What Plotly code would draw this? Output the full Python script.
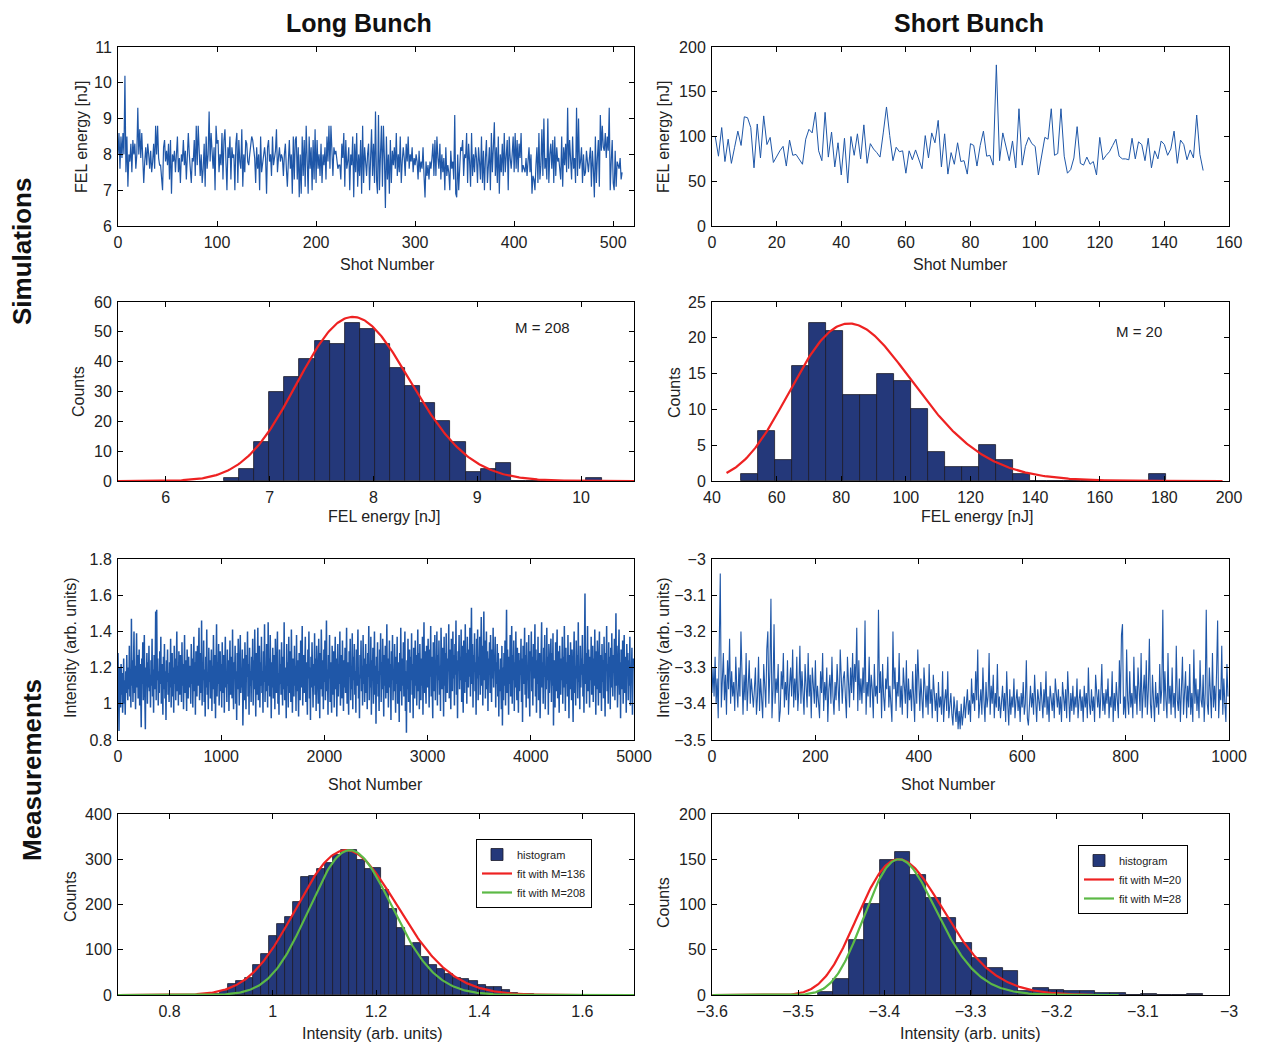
import numpy as np
import plotly.graph_objects as go

# The browser page has an 8px body margin: the figure is drawn from (8, 8)
PAGE_W, PAGE_H = 1261, 1046
OFF = 8
W, H = PAGE_W - OFF, PAGE_H - OFF
FONT = "Liberation Sans, Arial, sans-serif"


def fx(px):
    return (px - OFF) / W


def fy(py):
    return 1 - (py - OFF) / H


# ---------------- data ----------------
# Simulated long bunch: FEL energy per shot, in tenths of nJ
SIM_LONG_TENTHS = [
 80, 86, 76, 85, 79, 86, 80, 102, 75, 85, 71, 80, 78, 83, 75, 84, 80, 83, 76, 80,
 93, 80, 87, 79, 86, 80, 72, 78, 82, 77, 83, 80, 76, 81, 75, 78, 83, 76, 88, 80,
 88, 79, 77, 77, 73, 70, 82, 84, 78, 81, 77, 83, 73, 84, 69, 80, 78, 81, 75, 80,
 85, 75, 79, 72, 80, 78, 84, 77, 81, 73, 79, 86, 80, 76, 72, 79, 78, 84, 74, 88,
 77, 88, 79, 74, 80, 72, 76, 83, 71, 85, 76, 80, 92, 78, 86, 80, 76, 82, 70, 88,
 83, 84, 75, 80, 77, 86, 73, 84, 87, 78, 70, 82, 79, 85, 73, 82, 79, 80, 70, 83,
 86, 72, 84, 78, 76, 87, 71, 80, 75, 84, 83, 78, 77, 80, 84, 85, 84, 81, 79, 72,
 82, 76, 80, 70, 85, 75, 77, 80, 82, 79, 69, 82, 84, 78, 80, 74, 85, 77, 79, 81,
 87, 75, 79, 82, 78, 80, 79, 74, 80, 83, 76, 71, 78, 84, 76, 80, 69, 85, 73, 84,
 85, 73, 82, 68, 80, 69, 85, 74, 84, 71, 88, 77, 69, 85, 76, 82, 70, 84, 73, 87,
 72, 84, 76, 80, 74, 83, 72, 80, 77, 82, 73, 85, 78, 88, 76, 88, 80, 74, 82, 80,
 81, 78, 76, 77, 77, 73, 83, 79, 86, 71, 84, 76, 78, 82, 70, 80, 77, 85, 68, 83,
 75, 86, 71, 80, 74, 84, 69, 88, 72, 82, 77, 74, 80, 83, 70, 78, 87, 74, 83, 72,
 92, 73, 69, 91, 70, 80, 88, 71, 88, 79, 65, 85, 73, 80, 69, 84, 72, 81, 77, 82,
 76, 86, 74, 80, 75, 85, 72, 78, 82, 79, 74, 83, 78, 85, 76, 80, 78, 82, 75, 79,
 77, 80, 78, 73, 81, 75, 78, 76, 82, 74, 68, 78, 74, 77, 73, 78, 76, 79, 83, 74,
 84, 74, 85, 79, 76, 83, 73, 80, 75, 79, 70, 82, 74, 77, 75, 70, 81, 76, 78, 73,
 91, 69, 68, 80, 70, 76, 82, 81, 84, 74, 80, 79, 86, 72, 83, 78, 71, 86, 74, 80,
 75, 82, 79, 72, 82, 78, 73, 85, 72, 81, 70, 79, 84, 72, 78, 82, 70, 86, 75, 81,
 89, 74, 82, 72, 85, 69, 80, 75, 83, 74, 86, 75, 79, 84, 70, 85, 79, 76, 80, 85,
 75, 86, 76, 84, 75, 83, 79, 86, 75, 77, 76, 75, 79, 74, 78, 82, 75, 80, 69, 74,
 73, 70, 77, 82, 72, 86, 73, 77, 87, 74, 90, 76, 79, 73, 90, 72, 80, 83, 76, 84,
 72, 85, 74, 82, 78, 79, 76, 73, 85, 71, 82, 77, 83, 75, 93, 76, 84, 79, 73, 85,
 76, 79, 72, 93, 74, 90, 76, 78, 82, 72, 80, 74, 75, 81, 77, 75, 79, 82, 71, 81,
 76, 68, 85, 72, 79, 84, 71, 91, 81, 88, 82, 81, 86, 79, 85, 81, 93, 70, 78, 84,
 72, 70, 81, 71, 78, 77, 76, 79, 73, 75,
]

# Simulated short bunch: FEL energy per shot [nJ]
SIM_SHORT_NJ = [
 100, 78, 110, 72, 97, 70, 88, 106, 90, 122, 121, 110, 65, 114, 76, 123, 91, 99, 71, 78,
 84, 89, 67, 96, 79, 80, 74, 69, 97, 108, 104, 127, 84, 73, 127, 77, 105, 66, 93, 57,
 98, 48, 100, 79, 103, 75, 113, 70, 92, 86, 82, 77, 104, 133, 101, 73, 88, 83, 84, 59,
 84, 74, 85, 74, 64, 101, 76, 104, 93, 118, 66, 103, 58, 82, 69, 93, 72, 73, 58, 92,
 90, 67, 90, 106, 78, 79, 68, 180, 73, 104, 90, 73, 95, 65, 131, 68, 89, 99, 92, 89,
 57, 80, 99, 97, 131, 79, 81, 131, 78, 59, 63, 76, 111, 70, 68, 77, 69, 72, 57, 99,
 74, 79, 83, 90, 97, 78, 75, 75, 74, 98, 75, 94, 91, 73, 98, 65, 84, 75, 95, 91,
 79, 86, 106, 70, 96, 91, 74, 85, 76, 124, 80, 62,
]

# Measured long bunch: intensity of every 5th shot, coded as (I - 0.8) * 100
MEAS_LONG_STEP = 5
MEAS_LONG_CODE = [
 48, 22, 5, 40, 30, 18, 42, 25, 37, 15, 28, 45, 20, 33, 14, 38, 26, 47, 30, 22,
 40, 28, 52, 24, 36, 18, 67, 30, 44, 21, 35, 60, 26, 41, 17, 38, 59, 29, 47, 23,
 34, 50, 19, 42, 28, 7, 45, 31, 54, 22, 37, 58, 25, 6, 40, 33, 48, 20, 43, 29,
 52, 27, 36, 18, 44, 30, 56, 24, 39, 15, 47, 28, 35, 71, 22, 72, 33, 45, 19, 38,
 26, 49, 31, 57, 20, 42, 35, 14, 46, 28, 53, 23, 38, 11, 44, 32, 50, 25, 37, 21,
 43, 29, 56, 18, 36, 48, 24, 40, 15, 52, 31, 45, 22, 38, 60, 27, 41, 19, 49, 33,
 25, 47, 36, 21, 54, 30, 42, 17, 39, 58, 26, 44, 32, 16, 50, 35, 23, 46, 29, 41,
 37, 20, 53, 31, 45, 18, 38, 57, 27, 43, 14, 49, 34, 24, 52, 30, 40, 62, 22, 36,
 48, 26, 66, 19, 42, 33, 55, 21, 39, 13, 46, 29, 61, 25, 37, 17, 51, 32, 44, 23,
 35, 50, 16, 41, 28, 58, 34, 20, 47, 12, 39, 64, 24, 43, 31, 53, 19, 38, 49, 27,
 42, 18, 54, 33, 26, 47, 15, 40, 57, 29, 36, 21, 50, 31, 44, 16, 39, 55, 25, 34,
 46, 23, 61, 30, 17, 43, 35, 52, 20, 38, 11, 48, 28, 56, 33, 19, 41, 58, 26, 37,
 29, 50, 8, 39, 45, 22, 54, 31, 17, 47, 35, 60, 24, 42, 14, 51, 30, 38, 21, 46,
 33, 56, 19, 44, 28, 61, 35, 13, 48, 25, 40, 62, 22, 37, 52, 18, 43, 30, 57, 26,
 38, 15, 49, 32, 64, 21, 41, 27, 53, 35, 18, 65, 30, 45, 24, 58, 36, 12, 43, 29,
 51, 23, 39, 47, 17, 56, 33, 26, 44, 60, 20, 37, 14, 50, 31, 42, 25, 54, 34, 19,
 46, 28, 65, 22, 40, 35, 12, 53, 30, 43, 18, 57, 26, 38, 49, 21, 61, 32, 15, 45,
 36, 24, 52, 30, 41, 16, 58, 27, 44, 33, 13, 48, 37, 22, 55, 29, 40, 63, 19, 35,
 47, 26, 38, 57, 21, 43, 31, 14, 50, 34, 60, 23, 40, 11, 46, 29, 54, 36, 18, 42,
 30, 59, 25, 45, 16, 52, 33, 40, 20, 56, 37, 12, 48, 28, 61, 35, 24, 44, 17, 50,
 32, 55, 22, 41, 66, 27, 39, 14, 47, 34, 58, 21, 43, 30, 15, 52, 36, 25, 49, 18,
 40, 57, 28, 45, 13, 36, 53, 24, 42, 31, 60, 19, 38, 47, 23, 55, 33, 16, 44, 29,
 51, 26, 37, 62, 20, 43, 32, 14, 49, 35, 56, 22, 40, 28, 59, 17, 46, 33, 53, 25,
 38, 15, 50, 30, 44, 61, 23, 36, 12, 47, 34, 55, 27, 41, 19, 58, 31, 45, 21, 37,
 53, 26, 42, 17, 48, 35, 63, 22, 39, 29, 57, 14, 44, 33, 51, 20, 37, 60, 25, 41,
 9, 46, 31, 54, 24, 38, 16, 50, 36, 59, 21, 43, 28, 56, 34, 13, 47, 30, 52, 23,
 40, 64, 26, 45, 18, 37, 55, 29, 42, 11, 49, 33, 58, 22, 39, 27, 53, 35, 15, 46,
 31, 57, 20, 43, 36, 10, 48, 27, 62, 34, 19, 45, 30, 54, 24, 41, 60, 16, 38, 4,
 44, 28, 56, 21, 39, 50, 15, 46, 33, 59, 25, 42, 12, 51, 36, 23, 55, 30, 47, 19,
 40, 61, 27, 48, 17, 53, 35, 22, 45, 30, 57, 14, 42, 65, 26, 49, 33, 20, 52, 38,
 29, 56, 43, 18, 50, 35, 63, 24, 46, 31, 12, 54, 38, 27, 58, 22, 44, 36, 60, 19,
 47, 33, 55, 25, 41, 16, 62, 37, 28, 51, 43, 13, 57, 30, 48, 21, 59, 35, 26, 45,
 38, 64, 23, 50, 31, 17, 56, 42, 27, 60, 34, 47, 19, 53, 36, 66, 25, 44, 12, 49,
 39, 58, 28, 46, 33, 61, 21, 52, 37, 15, 55, 43, 26, 64, 32, 48, 20, 57, 40, 29,
 50, 35, 62, 24, 45, 73, 31, 53, 18, 47, 38, 59, 27, 43, 14, 56, 34, 61, 22, 46,
 36, 57, 25, 48, 68, 30, 52, 19, 44, 71, 33, 55, 23, 41, 60, 28, 49, 16, 45, 37,
 54, 26, 58, 38, 21, 50, 34, 62, 29, 46, 40, 57, 18, 43, 31, 53, 24, 48, 13, 39,
 27, 45, 33, 17, 52, 8, 40, 22, 48, 30, 55, 19, 43, 72, 26, 50, 35, 14, 46, 31,
 58, 24, 41, 63, 20, 47, 33, 55, 16, 43, 29, 60, 37, 22, 51, 34, 15, 48, 27, 44,
 36, 56, 21, 45, 10, 52, 31, 40, 62, 25, 47, 18, 54, 33, 41, 23, 58, 30, 13, 49,
 38, 60, 27, 46, 19, 53, 34, 42, 64, 24, 50, 15, 44, 31, 57, 22, 39, 48, 12, 36,
 55, 65, 29, 43, 20, 51, 35, 58, 17, 40, 28, 62, 33, 46, 14, 53, 26, 41, 37, 56,
 21, 48, 30, 59, 8, 44, 36, 18, 54, 27, 42, 61, 23, 49, 32, 15, 52, 38, 25, 45,
 33, 57, 20, 46, 29, 63, 37, 16, 51, 31, 43, 24, 58, 35, 12, 47, 28, 54, 39, 22,
 50, 30, 10, 44, 60, 26, 41, 19, 55, 34, 47, 23, 65, 32, 38, 17, 52, 29, 45, 36,
 58, 24, 42, 15, 54, 81, 31, 48, 20, 43, 63, 27, 50, 35, 18, 46, 33, 57, 25, 40,
 52, 21, 45, 30, 61, 37, 14, 49, 28, 55, 34, 19, 43, 60, 26, 47, 36, 16, 53, 32,
 44, 23, 57, 31, 13, 48, 38, 63, 27, 42, 20, 54, 35, 46, 17, 51, 29, 59, 33, 24,
 47, 37, 56, 22, 41, 70, 30, 52, 18, 45, 34, 61, 25, 43, 12, 50, 38, 28, 55, 20,
 42, 58, 26, 46, 33, 15, 53, 36, 48, 22, 44, 30, 57, 19, 40, 35, 51, 14, 38, 45,
]

# Measured short bunch: intensity of every 2nd shot, coded as -I * 100
MEAS_SHORT_STEP = 2
MEAS_SHORT_CODE = [
 337, 330, 338, 327, 340, 333, 344, 329, 304, 341, 335, 326, 339, 332, 343, 328, 336, 322, 340, 331,
 338, 334, 342, 327, 336, 341, 330, 338, 320, 337, 343, 332, 339, 326, 342, 335, 328, 340, 333, 337,
 341, 336, 330, 343, 338, 327, 342, 333, 339, 344, 329, 337, 341, 325, 320, 340, 331, 311, 344, 336,
 318, 340, 333, 337, 329, 345, 342, 331, 336, 326, 341, 334, 339, 328, 343, 335, 330, 338, 325, 341,
 333, 339, 327, 342, 336, 324, 340, 331, 337, 343, 329, 335, 341, 326, 338, 332, 344, 330, 336, 340,
 328, 341, 335, 339, 344, 331, 337, 326, 342, 334, 339, 330, 345, 336, 332, 340, 327, 338, 343, 334,
 339, 329, 337, 342, 325, 336, 340, 333, 331, 338, 344, 327, 335, 341, 330, 337, 326, 339, 329, 334,
 319, 342, 328, 339, 333, 340, 330, 337, 317, 343, 334, 338, 327, 341, 332, 336, 344, 329, 338, 335,
 340, 314, 337, 331, 344, 329, 338, 342, 333, 336, 327, 341, 335, 339, 345, 320, 336, 330, 342, 334,
 338, 326, 341, 335, 343, 330, 337, 340, 328, 344, 333, 339, 336, 342, 331, 338, 345, 329, 340, 325,
 337, 342, 333, 339, 344, 330, 338, 341, 335, 343, 329, 340, 336, 344, 332, 339, 342, 337, 345, 334,
 341, 338, 343, 331, 345, 339, 336, 342, 331, 344, 340, 337, 343, 346, 338, 341, 345, 339, 347, 342,
 347, 340, 346, 343, 338, 344, 341, 336, 343, 339, 345, 333, 340, 337, 342, 331, 339, 325, 344, 341,
 336, 343, 330, 339, 345, 334, 341, 338, 326, 343, 335, 340, 332, 344, 337, 341, 329, 342, 338, 344,
 339, 335, 342, 337, 345, 331, 340, 346, 336, 343, 338, 341, 333, 344, 339, 336, 342, 338, 345, 337,
 341, 334, 343, 340, 328, 344, 346, 338, 335, 341, 337, 343, 332, 339, 345, 336, 340, 342, 334, 338,
 344, 336, 341, 331, 343, 338, 345, 335, 340, 342, 337, 344, 333, 339, 341, 336, 343, 338, 345, 334,
 339, 342, 336, 344, 331, 340, 345, 337, 342, 335, 343, 338, 341, 333, 344, 339, 336, 342, 338, 345,
 335, 341, 337, 344, 330, 340, 343, 336, 342, 338, 345, 332, 339, 341, 336, 344, 338, 329, 342, 337,
 343, 336, 340, 333, 344, 338, 341, 331, 345, 337, 342, 334, 339, 344, 328, 340, 321, 318, 343, 338,
 344, 325, 339, 343, 331, 341, 337, 344, 327, 340, 335, 343, 330, 338, 342, 326, 344, 337, 332, 341,
 328, 343, 336, 322, 340, 344, 332, 339, 345, 334, 341, 337, 343, 329, 340, 336, 314, 342, 331, 339,
 344, 326, 340, 335, 343, 330, 341, 337, 344, 324, 339, 342, 333, 345, 336, 327, 343, 338, 331, 344,
 335, 341, 329, 343, 337, 345, 325, 340, 333, 342, 336, 344, 328, 339, 341, 332, 345, 337, 314, 340,
 343, 330, 338, 344, 326, 341, 335, 342, 331, 317, 344, 336, 339, 324, 343, 333, 340, 345, 329, 338,
]

# Histograms: first bin left edge, bin width, counts
H_SIM_LONG_START, H_SIM_LONG_WIDTH = 6.56, 0.1455
H_SIM_LONG_COUNTS = [1, 4, 13, 30, 35, 41, 47, 46, 53, 51, 46, 38, 32, 26, 20, 13, 3, 4, 6, 0, 0, 0, 0, 0, 1]

H_SIM_SHORT_START, H_SIM_SHORT_WIDTH = 49.0, 5.26
H_SIM_SHORT_COUNTS = [1, 7, 3, 16, 22, 21, 12, 12, 15, 14, 10, 4, 2, 2, 5, 3, 1, 0, 0, 0, 0, 0, 0, 0, 1]

H_MEAS_LONG_START, H_MEAS_LONG_WIDTH = 0.8829, 0.01557
H_MEAS_LONG_COUNTS = [3, 8, 25, 31, 38, 67, 90, 131, 158, 172, 205, 261, 264, 279, 292, 309,
                      321, 320, 298, 278, 281, 233, 189, 148, 108, 116, 84, 66, 58, 47, 38, 36, 31,
                      22, 18, 17, 12, 5, 3, 2, 1, 1, 1]

H_MEAS_SHORT_START, H_MEAS_SHORT_WIDTH = -3.477, 0.01786
H_MEAS_SHORT_COUNTS = [3, 18, 61, 101, 149, 158, 133, 107, 85, 58, 41, 30, 26, 4, 8, 5, 4, 4, 2, 2, 0, 1, 0, 0, 1]

# Gamma-distribution fits: (M, mean, peak height, offset, x from, x to)
FIT_SIM_LONG = dict(M=208, mean=7.84, peak=55, offset=0.0, x0=5.54, x1=10.51)
FIT_SIM_SHORT = dict(M=20, mean=86.8, peak=22, offset=0.0, x0=44.5, x1=198.0)
FIT_MEAS_LONG_A = dict(M=136, mean=1.15, peak=320, offset=0.0, x0=0.7, x1=1.7)
FIT_MEAS_LONG_B = dict(M=208, mean=1.155, peak=320, offset=0.0, x0=0.7, x1=1.7)
FIT_MEAS_SHORT_A = dict(M=20, mean=0.228, peak=150, offset=-3.6, x0=-3.5995, x1=-3.158)
FIT_MEAS_SHORT_B = dict(M=28, mean=0.225, peak=150, offset=-3.6, x0=-3.5995, x1=-3.128)

# ---------------- styling ----------------
LINE_BLUE = "#1f57a8"
BAR_FILL = "#24387a"
BAR_EDGE = "#1b1b2a"
RED = "#ee2222"
GREEN = "#5cb946"

COL_X = [(118, 634), (712, 1229)]
ROW_Y = [(47, 226), (302, 481), (559, 740), (814, 995)]


def fit_curve(p, n=400):
    x = np.linspace(p["x0"], p["x1"], n)
    u = x - p["offset"]
    M, mean = p["M"], p["mean"]
    mode = mean * (M - 1) / M
    logf = (M - 1) * np.log(u / mode) - M * (u - mode) / mean
    return x, p["peak"] * np.exp(logf)


def centers(start, width, counts):
    return [start + (i + 0.5) * width for i in range(len(counts))]


fig = go.Figure()

# panels: (axis index, col, row, xrange, xtick0, xdtick, yrange, ytick0, ydtick)
PANELS = [
    (1, 0, 0, [0, 521], 0, 100, [6, 11], 6, 1),
    (2, 1, 0, [0, 160], 0, 20, [0, 200], 0, 50),
    (3, 0, 1, [5.54, 10.51], 6, 1, [0, 60], 0, 10),
    (4, 1, 1, [40, 200], 40, 20, [0, 25], 0, 5),
    (5, 0, 2, [0, 5000], 0, 1000, [0.8, 1.8], 0.8, 0.2),
    (6, 1, 2, [0, 1000], 0, 200, [-3.5, -3.0], -3.5, 0.1),
    (7, 0, 3, [0.7, 1.7], 0.8, 0.2, [0, 400], 0, 100),
    (8, 1, 3, [-3.6, -3.0], -3.6, 0.1, [0, 200], 0, 50),
]

layout_axes = {}
for idx, col, row, xr, xt0, xdt, yr, yt0, ydt in PANELS:
    xs = "" if idx == 1 else str(idx)
    common = dict(showline=True, linecolor="black", linewidth=1, mirror="ticks",
                  ticks="inside", ticklen=5, tickcolor="black", tickwidth=1,
                  showgrid=False, zeroline=False, automargin=False,
                  tickfont=dict(family=FONT, size=16, color="#222"))
    layout_axes["xaxis" + xs] = dict(
        common, domain=[fx(COL_X[col][0]), fx(COL_X[col][1])], range=xr,
        tick0=xt0, dtick=xdt, anchor="y" + xs, ticklabelstandoff=2)
    layout_axes["yaxis" + xs] = dict(
        common, domain=[fy(ROW_Y[row][1]), fy(ROW_Y[row][0])], range=yr,
        tick0=yt0, dtick=ydt, anchor="x" + xs, ticklabelstandoff=2)


def ax(i):
    s = "" if i == 1 else str(i)
    return dict(xaxis="x" + s, yaxis="y" + s)


# time series
sim_long = [v / 10 for v in SIM_LONG_TENTHS]
fig.add_trace(go.Scatter(x=list(range(len(sim_long))), y=sim_long, mode="lines",
                         line=dict(color=LINE_BLUE, width=1.2), showlegend=False, **ax(1)))
fig.add_trace(go.Scatter(x=list(range(1, len(SIM_SHORT_NJ) + 1)), y=SIM_SHORT_NJ, mode="lines",
                         line=dict(color=LINE_BLUE, width=1), showlegend=False, **ax(2)))
meas_long = [0.8 + c / 100 for c in MEAS_LONG_CODE]
fig.add_trace(go.Scatter(x=[i * MEAS_LONG_STEP for i in range(len(meas_long))], y=meas_long,
                         mode="lines", line=dict(color=LINE_BLUE, width=1.5), showlegend=False, **ax(5)))
meas_short = [-c / 100 for c in MEAS_SHORT_CODE]
fig.add_trace(go.Scatter(x=[i * MEAS_SHORT_STEP for i in range(len(meas_short))], y=meas_short,
                         mode="lines", line=dict(color=LINE_BLUE, width=1.1), showlegend=False, **ax(6)))


def add_hist(start, width, counts, i, legend=None):
    fig.add_trace(go.Bar(x=centers(start, width, counts), y=counts, width=width,
                         marker=dict(color=BAR_FILL, line=dict(color=BAR_EDGE, width=0.8)),
                         name="histogram", showlegend=legend is not None,
                         legend=legend or "legend", **ax(i)))


def add_fit(p, i, color, name=None, legend=None, width=2.2):
    x, y = fit_curve(p)
    fig.add_trace(go.Scatter(x=x, y=y, mode="lines", line=dict(color=color, width=width),
                             name=name or "", showlegend=legend is not None,
                             legend=legend or "legend", **ax(i)))


add_hist(H_SIM_LONG_START, H_SIM_LONG_WIDTH, H_SIM_LONG_COUNTS, 3)
add_fit(FIT_SIM_LONG, 3, RED)
add_hist(H_SIM_SHORT_START, H_SIM_SHORT_WIDTH, H_SIM_SHORT_COUNTS, 4)
add_fit(FIT_SIM_SHORT, 4, RED)

add_hist(H_MEAS_LONG_START, H_MEAS_LONG_WIDTH, H_MEAS_LONG_COUNTS, 7, legend="legend")
add_fit(FIT_MEAS_LONG_A, 7, RED, "fit with M=136", "legend")
add_fit(FIT_MEAS_LONG_B, 7, GREEN, "fit with M=208", "legend")

add_hist(H_MEAS_SHORT_START, H_MEAS_SHORT_WIDTH, H_MEAS_SHORT_COUNTS, 8, legend="legend2")
add_fit(FIT_MEAS_SHORT_A, 8, RED, "fit with M=20", "legend2")
add_fit(FIT_MEAS_SHORT_B, 8, GREEN, "fit with M=28", "legend2")

legend_common = dict(xanchor="left", yanchor="top", bgcolor="white", bordercolor="black",
                     borderwidth=1, font=dict(family=FONT, size=11, color="#222"),
                     tracegroupgap=0, itemwidth=30)


def ann(text, x, y, size=16, bold=False, angle=0):
    return dict(text=f"<b>{text}</b>" if bold else text, x=fx(x), y=fy(y),
                xref="paper", yref="paper", showarrow=False, textangle=angle,
                xanchor="center", yanchor="middle",
                font=dict(family=FONT, size=size, color="#111" if bold else "#222"))


annotations = [
    ann("Long Bunch", 359, 23, 25, True),
    ann("Short Bunch", 969, 23, 25, True),
    ann("Simulations", 22, 252, 26, True, -90),
    ann("Measurements", 32, 770, 26, True, -90),
    # x titles
    ann("Shot Number", 388, 264), ann("Shot Number", 960, 264),
    ann("FEL energy [nJ]", 384, 516), ann("FEL energy [nJ]", 977, 516),
    ann("Shot Number", 375, 784), ann("Shot Number", 948, 784),
    ann("Intensity (arb. units)", 372, 1033), ann("Intensity (arb. units)", 970, 1033),
    # y titles
    ann("FEL energy [nJ]", 81, 137, 16, False, -90), ann("FEL energy [nJ]", 663, 137, 16, False, -90),
    ann("Counts", 78, 392, 16, False, -90), ann("Counts", 674, 392, 16, False, -90),
    ann("Intensity (arb. units)", 70, 648, 16, False, -90), ann("Intensity (arb. units)", 663, 648, 16, False, -90),
    ann("Counts", 70, 897, 16, False, -90), ann("Counts", 663, 903, 16, False, -90),
    # fit labels
    ann("M = 208", 542, 327, 15), ann("M = 20", 1139, 331, 15),
]

fig.update_layout(
    width=W, height=H, margin=dict(l=0, r=0, t=0, b=0, autoexpand=False),
    paper_bgcolor="white", plot_bgcolor="white", bargap=0,
    font=dict(family=FONT),
    annotations=annotations,
    legend=dict(legend_common, x=fx(476), y=fy(839)),
    legend2=dict(legend_common, x=fx(1078), y=fy(845)),
    **layout_axes,
)

fig.write_html("out.html")
